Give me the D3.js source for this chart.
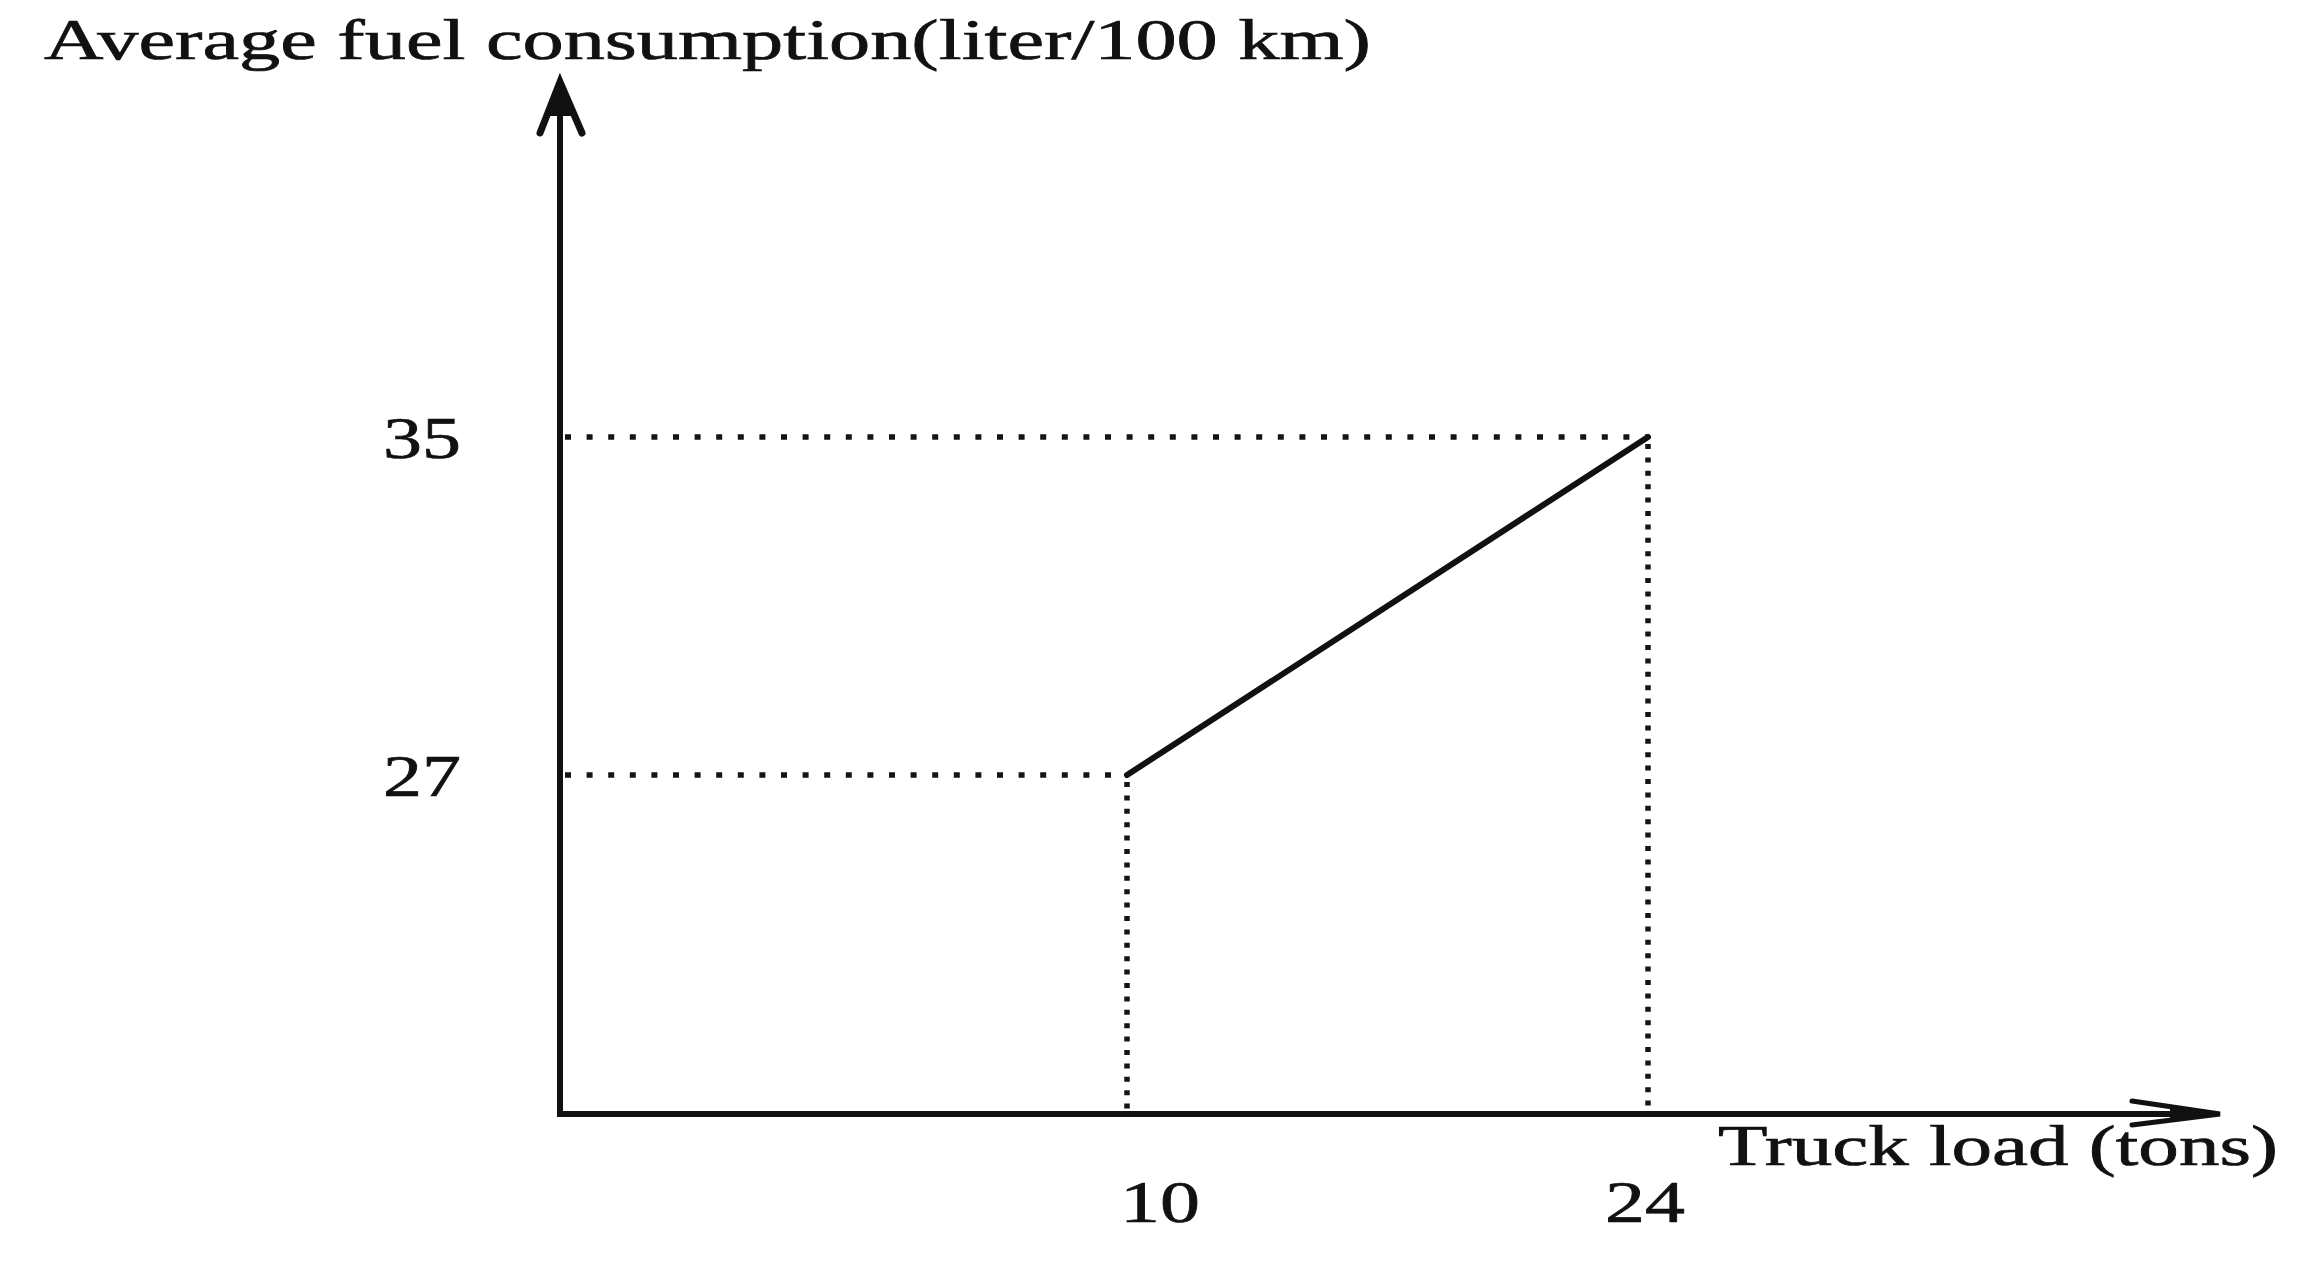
<!DOCTYPE html>
<html>
<head>
<meta charset="utf-8">
<script src="https://cdn.jsdelivr.net/npm/d3@7/dist/d3.min.js"></script>
<style>
  html, body { margin: 0; padding: 0; background: #ffffff; }
  svg { display: block; }
  text { font-family: "Liberation Serif", "DejaVu Serif", serif; fill: #111; stroke: #111; stroke-width: 0.7px; }
</style>
</head>
<body>
<svg id="chart" width="2304" height="1279"></svg>
<script>
// ---- data ----
const xTicks = [10, 24];                 // truck load (tons)
const yTicks = [27, 35];                 // liter / 100 km
const loads = [10, 24];
const consumption = [27, 35];
const titleText = "Average fuel consumption(liter/100 km)";
const xLabelText = "Truck load (tons)";

// ---- layout ----
const originX = 560, originY = 1114;
const xEnd = 2220, yEnd = 80;

const svg = d3.select("#chart");

// schematic (not to scale) piecewise scales
const x = d3.scaleLinear().domain([0, 10, 24]).range([originX, 1127, 1648]);
const y = d3.scaleLinear().domain([0, 27, 35]).range([originY, 775, 437]);
// label placement scale for the x tick labels (labels sit slightly off the guides)
const xLab = d3.scaleLinear().domain([10, 24]).range([1160, 1645]);

const points = loads.map((d, i) => ({ x: d, y: consumption[i] }));

// dotted guide lines
const guide = svg.append("g").attr("stroke", "#141414").attr("fill", "none").attr("stroke-linecap", "butt");
points.forEach(p => {
  guide.append("line")
    .attr("x1", originX + 5).attr("x2", x(p.x))
    .attr("y1", y(p.y)).attr("y2", y(p.y))
    .attr("stroke-width", 5.5)
    .attr("stroke-dasharray", "6 15.6");
  guide.append("line")
    .attr("x1", x(p.x)).attr("x2", x(p.x))
    .attr("y1", y(p.y) + 7).attr("y2", originY - 3)
    .attr("stroke-width", 5.5)
    .attr("stroke-dasharray", "5 8.4");
});

// data line
svg.append("path")
  .datum(points)
  .attr("fill", "none")
  .attr("stroke", "#111")
  .attr("stroke-width", 6)
  .attr("stroke-linejoin", "round")
  .attr("stroke-linecap", "round")
  .attr("d", d3.line().x(d => x(d.x)).y(d => y(d.y)));

// axes
const ax = svg.append("g").attr("stroke", "#111").attr("fill", "none");
ax.append("line").attr("x1", originX).attr("x2", originX).attr("y1", originY + 3).attr("y2", yEnd + 8).attr("stroke-width", 6);
ax.append("line").attr("x1", originX - 3).attr("x2", xEnd - 12).attr("y1", originY).attr("y2", originY).attr("stroke-width", 6);
// y arrow head
ax.append("path")
  .attr("d", `M${originX - 20},${yEnd + 53} L${originX},${yEnd + 2} L${originX + 22},${yEnd + 53}`)
  .attr("stroke-width", 7).attr("stroke-linejoin", "miter").attr("stroke-linecap", "round");
svg.append("path")
  .attr("d", `M${originX},${yEnd} L${originX - 12},${yEnd + 36} L${originX + 12},${yEnd + 36} Z`)
  .attr("fill", "#111");
// x arrow head
ax.append("path")
  .attr("d", `M${xEnd - 88},${originY - 13} L${xEnd},${originY} L${xEnd - 88},${originY + 11}`)
  .attr("stroke-width", 5).attr("stroke-linejoin", "miter").attr("stroke-linecap", "round");
svg.append("path")
  .attr("d", `M${xEnd},${originY} L${xEnd - 50},${originY - 8} L${xEnd - 50},${originY + 7} Z`)
  .attr("fill", "#111");

// tick labels
svg.append("g").selectAll("text").data(yTicks).join("text")
  .attr("x", 461).attr("y", d => y(d) + 21)
  .attr("text-anchor", "end")
  .attr("font-size", 60)
  .attr("textLength", 78).attr("lengthAdjust", "spacingAndGlyphs")
  .text(d => d);

svg.append("g").selectAll("text").data(xTicks).join("text")
  .attr("x", d => xLab(d)).attr("y", 1222)
  .attr("text-anchor", "middle")
  .attr("font-size", 60)
  .attr("textLength", 80).attr("lengthAdjust", "spacingAndGlyphs")
  .text(d => d);

// axis titles
svg.append("text")
  .attr("x", 44).attr("y", 59)
  .attr("font-size", 58)
  .attr("textLength", 1327).attr("lengthAdjust", "spacingAndGlyphs")
  .text(titleText);

svg.append("text")
  .attr("x", 1718).attr("y", 1165)
  .attr("font-size", 56)
  .attr("textLength", 560).attr("lengthAdjust", "spacingAndGlyphs")
  .text(xLabelText);
</script>
</body>
</html>
